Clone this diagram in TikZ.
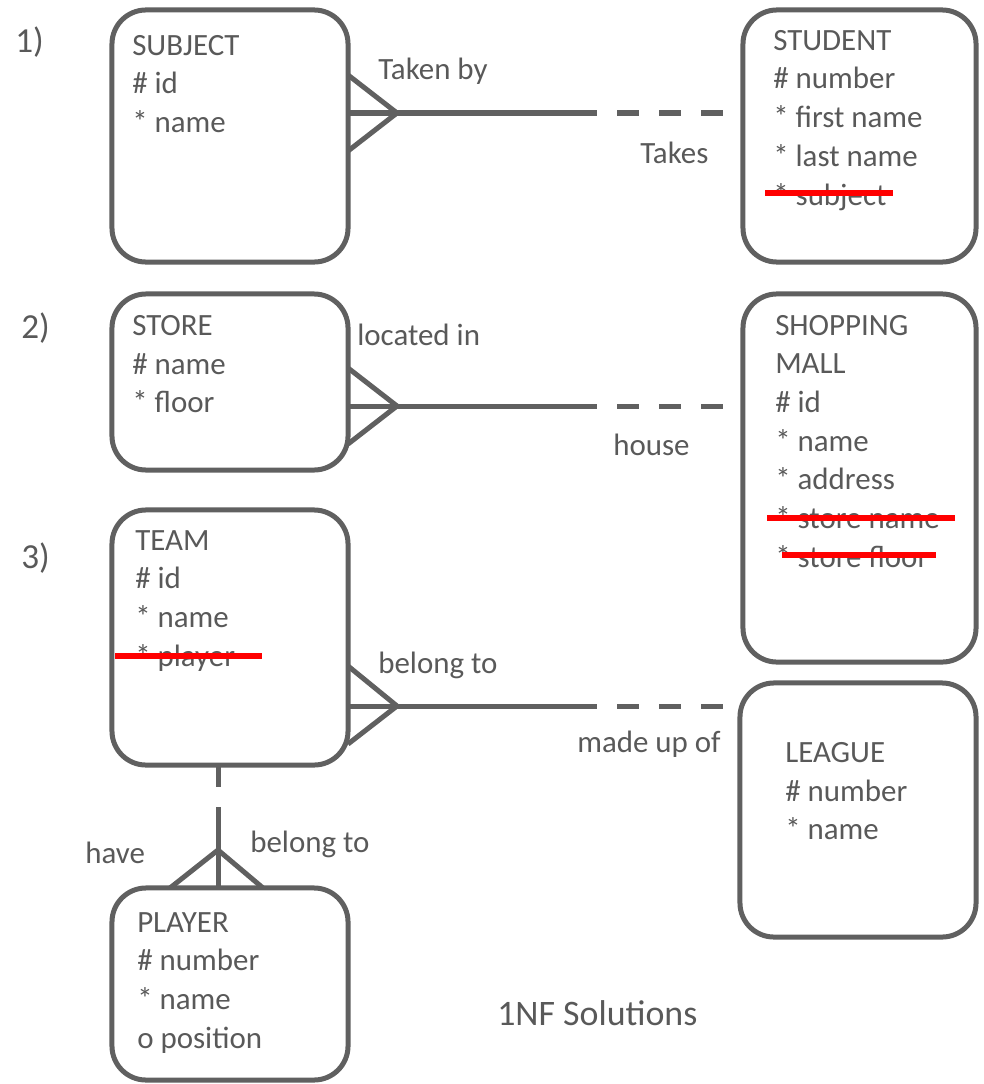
\documentclass[tikz,border=0pt]{standalone}
\usepackage{fontspec}
\setmainfont{Carlito}
\usetikzlibrary{calc,positioning}
\definecolor{linegray}{RGB}{96,96,96}
\definecolor{textgray}{RGB}{89,89,89}

\tikzset{
  entity/.style={draw=linegray, line width=1.25mm, rounded corners=0.85cm, outer sep=0pt, inner sep=0pt},
  attrs/.style={anchor=north west, align=left, inner sep=0pt, text=textgray, font=\fontsize{22}{27.5}\selectfont},
  rellabel/.style={anchor=base west, inner sep=0pt, text=textgray, font=\fontsize{22}{27.5}\selectfont},
  rel/.style={draw=linegray, line width=1.25mm},
  reldash/.style={rel, dash pattern=on 0.55cm off 0.5cm},
  redstrike/.style={draw=red, line width=1.5mm}
}

\begin{document}
\begin{tikzpicture}[x=0.025cm, y=-0.025cm]
			%%%%% START %%%%%
			\useasboundingbox (0,0) rectangle (984,1084);
			
			% entities
			\node[entity, minimum width=5.9cm, minimum height=6.3cm] (subject) at (230,136) {};
			\node[entity, minimum width=5.825cm, minimum height=6.3cm] (student) at (859.5,136) {};
			\node[entity, minimum width=5.9cm, minimum height=4.4cm] (store) at (230,382) {};
			\node[entity, minimum width=5.825cm, minimum height=9.2cm] (mall) at (859.5,478) {};
			\node[entity, minimum width=5.9cm, minimum height=6.375cm] (team) at (230,637.5) {};
			\node[entity, minimum width=5.9cm, minimum height=6.35cm] (league) at (858,810) {};
			\node[entity, minimum width=5.9cm, minimum height=4.8cm] (player) at (230,984) {};
			
			\node[attrs] (subjecttxt) at ($(subject.north west)+(20,25)$) {SUBJECT\\\# id\\* name};
			\node[attrs] (studenttxt) at ($(student.north west)+(30,20)$) {STUDENT\\\# number\\* first name\\* last name\\* subject};
			\node[attrs] (storetxt) at ($(store.north west)+(20,21)$) {STORE\\\# name\\* floor};
			\node[attrs] (malltxt) at ($(mall.north west)+(32,21)$) {SHOPPING\\MALL\\\# id\\* name\\* address\\* store name\\* store floor};
			\node[attrs] (teamtxt) at ($(team.north west)+(23,20)$) {TEAM\\\# id\\* name\\* player};
			\node[attrs] (leaguetxt) at ($(league.north west)+(45,59)$) {LEAGUE\\\# number\\* name};
			\node[attrs] (playertxt) at ($(player.north west)+(25,24)$) {PLAYER\\\# number\\* name\\o position};
			
			% struck-out attributes
			\draw[redstrike] (765,193) -- (893,193);
			\draw[redstrike] (767,518) -- (955,518);
			\draw[redstrike] (782,555) -- (936,555);
			\draw[redstrike] (115,656) -- (262,656);
			
			% 1) subject - student
			\coordinate (foot1) at (397,113);
			\coordinate (mid1) at (575,113);
			\draw[rel] ($(subject.east |- foot1)+(0,-38)$) -- (foot1) -- ($(subject.east |- foot1)+(0,38)$);
			\draw[rel] (subject.east |- foot1) -- (mid1);
			\draw[reldash] (mid1) -- ($(student.west |- foot1)+(-20,0)$);
			
			% 2) store - mall
			\coordinate (foot2) at (397,406);
			\coordinate (mid2) at (575,406);
			\draw[rel] ($(store.east |- foot2)+(0,-38)$) -- (foot2) -- ($(store.east |- foot2)+(0,38)$);
			\draw[rel] (store.east |- foot2) -- (mid2);
			\draw[reldash] (mid2) -- ($(mall.west |- foot2)+(-20,0)$);
			
			% 3) team - league
			\coordinate (foot3) at (397,706);
			\coordinate (mid3) at (575,706);
			\draw[rel] ($(team.east |- foot3)+(0,-40)$) -- (foot3) -- ($(team.east |- foot3)+(0,38)$);
			\draw[rel] (team.east |- foot3) -- (mid3);
			\draw[reldash] (mid3) -- ($(league.west |- foot3)+(-17,0)$);
			
			% team - player
			\coordinate (foot4) at (218,850);
			\coordinate (mid4) at (218,807);
			\draw[rel] ($(player.north -| foot4)+(-48,0)$) -- (foot4) -- ($(player.north -| foot4)+(45,0)$);
			\draw[rel] (player.north -| foot4) -- (mid4);
			\draw[reldash] (team.south -| foot4) -- (mid4);
			
			% labels
			\node[rellabel, font=\fontsize{25}{30}\selectfont] (num1) at (15,53) {1)};
			\node[rellabel, font=\fontsize{25}{30}\selectfont] (num2) at (21,338) {2)};
			\node[rellabel, font=\fontsize{25}{30}\selectfont] (num3) at (21,568) {3)};
			\node[rellabel] (takenby) at (378,80) {Taken by};
			\node[rellabel] (takes) at (640,163) {Takes};
			\node[rellabel] (locatedin) at (357,345) {located in};
			\node[rellabel] (house) at (613,455) {house};
			\node[rellabel] (belongto) at (378,673) {belong to};
			\node[rellabel] (madeupof) at (577,752) {made up of};
			\node[rellabel] (have) at (85,863) {have};
			\node[rellabel] (belongtoo) at (250,852) {belong to};
			\node[rellabel, font=\fontsize{25.5}{30}\selectfont] (title) at (497,1025) {1NF Solutions};
			
			%%%%% END %%%%%
\end{tikzpicture}
\end{document}
